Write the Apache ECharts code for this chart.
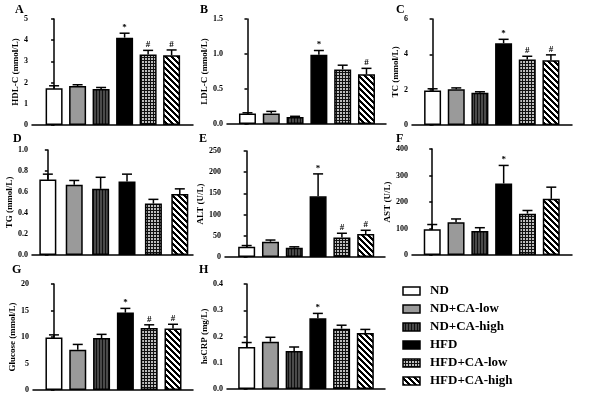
<!DOCTYPE html>
<html>
<head>
<meta charset="utf-8">
<title>Serum lipid and liver markers</title>
<script src="https://cdn.jsdelivr.net/npm/echarts@6/dist/echarts.min.js"></script>
<style>
  html, body { margin: 0; padding: 0; background: #ffffff; }
  #chart { width: 612px; height: 398px; }
</style>
</head>
<body>
<div id="chart"></div>
<script>
// Groups (legend order)
const groups = ['ND', 'ND+CA-low', 'ND+CA-high', 'HFD', 'HFD+CA-low', 'HFD+CA-high'];

// A - HDL-C
const hdlMean = [1.73, 1.84, 1.70, 4.12, 3.32, 3.29];
const hdlErr = [0.12, 0.06, 0.07, 0.21, 0.20, 0.25];
const hdlSig = ['', '', '', '*', '#', '#'];

// B - LDL-C
const ldlMean = [0.15, 0.15, 0.10, 0.99, 0.78, 0.71];
const ldlErr = [0.01, 0.03, 0.01, 0.06, 0.06, 0.085];
const ldlSig = ['', '', '', '*', '', '#'];

// C - TC
const tcMean = [1.95, 2.02, 1.83, 4.63, 3.71, 3.67];
const tcErr = [0.10, 0.08, 0.05, 0.22, 0.18, 0.30];
const tcSig = ['', '', '', '*', '#', '#'];

// D - TG
const tgMean = [0.72, 0.67, 0.63, 0.70, 0.49, 0.58];
const tgErr = [0.05, 0.04, 0.11, 0.07, 0.04, 0.05];
const tgSig = ['', '', '', '', '', ''];

// E - ALT
const altMean = [24, 36, 22, 143, 46, 54];
const altErr = [3, 4, 2, 53, 10, 9];
const altSig = ['', '', '', '*', '#', '#'];

// F - AST
const astMean = [97, 124, 91, 270, 156, 212];
const astErr = [18, 12, 12, 68, 12, 44];
const astSig = ['', '', '', '*', '', ''];

// G - Glucose
const gluMean = [9.9, 7.6, 9.8, 14.6, 11.7, 11.6];
const gluErr = [0.5, 1.0, 0.7, 0.8, 0.6, 0.8];
const gluSig = ['', '', '', '*', '#', '#'];

// H - hsCRP
const crpMean = [0.16, 0.18, 0.145, 0.27, 0.23, 0.213];
const crpErr = [0.017, 0.017, 0.015, 0.018, 0.013, 0.014];
const crpSig = ['', '', '', '*', '', ''];

const panels = [
    { letter: 'A', name: 'HDL-C (mmol/L)', mean: hdlMean, err: hdlErr, sig: hdlSig, max: 5, step: 1, dec: 0 },
    { letter: 'B', name: 'LDL-C (mmol/L)', mean: ldlMean, err: ldlErr, sig: ldlSig, max: 1.5, step: 0.5, dec: 1 },
    { letter: 'C', name: 'TC (mmol/L)', mean: tcMean, err: tcErr, sig: tcSig, max: 6, step: 2, dec: 0 },
    { letter: 'D', name: 'TG (mmol/L)', mean: tgMean, err: tgErr, sig: tgSig, max: 1.0, step: 0.2, dec: 1 },
    { letter: 'E', name: 'ALT (U/L)', mean: altMean, err: altErr, sig: altSig, max: 250, step: 50, dec: 0 },
    { letter: 'F', name: 'AST (U/L)', mean: astMean, err: astErr, sig: astSig, max: 400, step: 100, dec: 0 },
    { letter: 'G', name: 'Glucose (mmol/L)', mean: gluMean, err: gluErr, sig: gluSig, max: 20, step: 5, dec: 0 },
    { letter: 'H', name: 'hsCRP (mg/L)', mean: crpMean, err: crpErr, sig: crpSig, max: 0.4, step: 0.1, dec: 1 }
];

// Panel placement (pixels) - axis box, x range, title gap, letter position
const layout = [
    { l: 32, r: 193, t: 19, b: 125, xMin: -0.94, xMax: 5.91, gap: 8.5, lx: 19, ly: 10 },
    { l: 227, r: 386, t: 19, b: 124, xMin: -0.86, xMax: 5.82, gap: 17.5, lx: 204, ly: 10 },
    { l: 412, r: 572, t: 19, b: 125, xMin: -0.87, xMax: 5.89, gap: 10.5, lx: 400, ly: 10 },
    { l: 32, r: 193, t: 150, b: 255, xMin: -0.6, xMax: 5.5, gap: 14.5, lx: 17, ly: 139 },
    { l: 225, r: 385, t: 151, b: 257, xMin: -0.91, xMax: 5.81, gap: 15.5, lx: 203, ly: 139 },
    { l: 412, r: 572, t: 149, b: 255, xMin: -0.85, xMax: 5.87, gap: 17.5, lx: 400, ly: 139 },
    { l: 33, r: 193, t: 284, b: 390, xMin: -0.88, xMax: 5.84, gap: 13.5, lx: 16, ly: 270 },
    { l: 227, r: 385, t: 284, b: 389, xMin: -0.83, xMax: 5.83, gap: 16.5, lx: 203, ly: 270 }
];

const SERIF = '"Liberation Serif", "DejaVu Serif", serif';

// Fill patterns for the six groups
function makePattern(w, h, fn) {
    const c = document.createElement('canvas');
    c.width = w;
    c.height = h;
    const ctx = c.getContext('2d');
    for (let y = 0; y < h; y++) {
        for (let x = 0; x < w; x++) {
            ctx.fillStyle = fn(x, y);
            ctx.fillRect(x, y, 1, 1);
        }
    }
    return { image: c, repeat: 'repeat' };
}

const fills = [
    '#ffffff',
    '#9a9a9a',
    makePattern(3, 1, (x) => x === 0 ? '#111111' : '#4a4a4a'),
    '#000000',
    makePattern(3, 3, (x, y) => (x === 0 || y === 0) ? '#111111' : '#bdbdbd'),
    makePattern(6, 6, (x, y) => ((x - y + 60) % 6) < 3 ? '#000000' : '#ffffff')
];

const chart = echarts.init(document.getElementById('chart'), null, { renderer: 'canvas' });

const grid = [], xAxis = [], yAxis = [], series = [], graphic = [];

panels.forEach(function (p, k) {
    const L = layout[k];
    grid.push({ left: L.l, top: L.t, width: L.r - L.l, height: L.b - L.t });
    xAxis.push({
        gridIndex: k, type: 'value', min: L.xMin, max: L.xMax,
        axisLine: { show: true, onZero: false, lineStyle: { color: '#000', width: 1.5 } },
        axisTick: { show: false }, axisLabel: { show: false }, splitLine: { show: false }
    });
    yAxis.push({
        gridIndex: k, type: 'value', min: 0, max: p.max, interval: p.step,
        name: p.name, nameLocation: 'middle', nameRotate: 90, nameGap: L.gap,
        nameTextStyle: { fontFamily: SERIF, fontWeight: 'bold', fontSize: 9, color: '#000' },
        axisLine: { show: true, lineStyle: { color: '#000', width: 1.5 } },
        axisTick: { show: true, length: 3, lineStyle: { color: '#000', width: 1.5 } },
        axisLabel: {
            fontFamily: SERIF, fontWeight: 'bold', fontSize: 8, color: '#000', margin: 4,
            formatter: function (v) { return v.toFixed(p.dec); }
        },
        splitLine: { show: false }
    });
    series.push({
        type: 'bar', xAxisIndex: k, yAxisIndex: k, barWidth: 17,
        data: p.mean.map(function (v, i) {
            return { value: [i, v], itemStyle: { color: fills[i] } };
        }),
        itemStyle: { borderColor: '#000', borderWidth: 1.5 },
        silent: true, z: 2
    });
    series.push({
        type: 'custom', xAxisIndex: k, yAxisIndex: k, z: 3, silent: true,
        data: p.mean.map(function (v, i) { return [i, v, p.err[i]]; }),
        renderItem: function (params, api) {
            const i = api.value(0), m = api.value(1), e = api.value(2);
            const base = api.coord([i, m]);
            const top = api.coord([i, m + e]);
            const sig = p.sig[params.dataIndex];
            return {
                type: 'group',
                children: [
                    { type: 'line', shape: { x1: base[0], y1: base[1], x2: top[0], y2: top[1] },
                      style: { stroke: '#000', lineWidth: 1.5 } },
                    { type: 'line', shape: { x1: top[0] - 5, y1: top[1], x2: top[0] + 5, y2: top[1] },
                      style: { stroke: '#000', lineWidth: 1.5 } },
                    { type: 'text', style: { text: sig, x: top[0], y: top[1] - 1,
                      align: 'center', verticalAlign: 'bottom', textAlign: 'center', textVerticalAlign: 'bottom',
                      font: 'bold 9px ' + SERIF, fill: '#000' } }
                ]
            };
        }
    });
    graphic.push({
        type: 'text', left: L.lx - 4, top: L.ly - 6,
        style: { text: p.letter, font: 'bold 12px ' + SERIF, fill: '#000' }
    });
});

// Legend, drawn as swatches with the same fills
groups.forEach(function (g, i) {
    const y = 291 + i * 18;
    graphic.push({
        type: 'rect', shape: { x: 403, y: y - 4, width: 17, height: 8 },
        style: { fill: fills[i], stroke: '#000', lineWidth: 1.5 }
    });
    graphic.push({
        type: 'text', x: 430, y: y,
        style: { text: g, font: 'bold 13px ' + SERIF, fill: '#000', textVerticalAlign: 'middle', verticalAlign: 'middle' }
    });
});

chart.setOption({
    backgroundColor: '#ffffff',
    animation: false,
    grid: grid,
    xAxis: xAxis,
    yAxis: yAxis,
    series: series,
    graphic: graphic
});
</script>
</body>
</html>
